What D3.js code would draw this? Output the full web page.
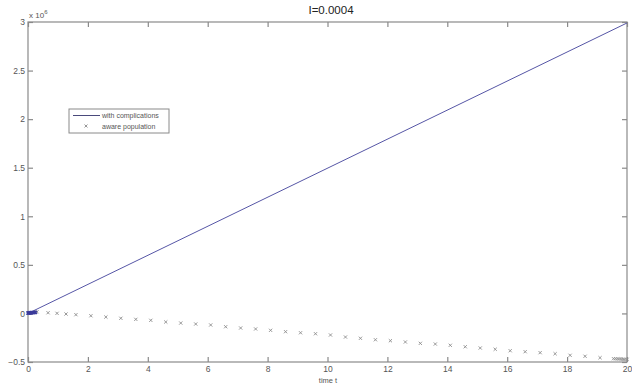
<!DOCTYPE html>
<html>
<head>
<meta charset="utf-8">
<script src="https://cdn.jsdelivr.net/npm/d3@7"></script>
<style>
  body { margin: 0; background: #fff; }
  text { font-family: "Liberation Sans", Arial, sans-serif; }
</style>
</head>
<body>
<svg id="chart" width="632" height="385"></svg>
<script>
// line series "with complications" (values in units of 10^6)
const lineTime = [0, 20];
const lineValue = [0, 2.99];

// marker series "aware population"
const awareTime = [0.3, 0.67, 0.97, 1.27, 1.6, 2.1, 2.6, 3.1, 3.6, 4.1, 4.6, 5.1, 5.6, 6.1,
  6.6, 7.1, 7.6, 8.1, 8.6, 9.1, 9.6, 10.1, 10.6, 11.1, 11.6, 12.1, 12.6, 13.1, 13.6, 14.1,
  14.6, 15.1, 15.6, 16.1, 16.6, 17.1, 17.6, 18.1, 18.6, 19.1, 19.55, 19.62, 19.69, 19.75,
  19.81, 19.87, 19.93, 20];
const awareValue = [0.017, 0.007, 0.001, -0.006, -0.013, -0.024, -0.037, -0.05, -0.061, -0.071,
  -0.088, -0.099, -0.109, -0.119, -0.137, -0.15, -0.16, -0.174, -0.188, -0.199, -0.209, -0.222,
  -0.243, -0.256, -0.271, -0.281, -0.294, -0.308, -0.315, -0.328, -0.343, -0.356, -0.369, -0.384,
  -0.394, -0.404, -0.415, -0.431, -0.441, -0.456, -0.466, -0.467, -0.468, -0.469, -0.47, -0.471,
  -0.472, -0.473];

// dense solver steps near the origin (drawn in blue)
const startTime = [0, 0.02, 0.04, 0.07, 0.1, 0.13, 0.17, 0.21, 0.25];
const startValue = [0.004, 0.005, 0.006, 0.006, 0.007, 0.008, 0.009, 0.01, 0.011];

const xTicks = [0, 2, 4, 6, 8, 10, 12, 14, 16, 18, 20];
const yTicks = [-0.5, 0, 0.5, 1, 1.5, 2, 2.5, 3];

const margin = {top: 22, right: 5, bottom: 23, left: 28},
    width = 632 - margin.left - margin.right,
    height = 385 - margin.top - margin.bottom;

const svg = d3.select("#chart");
const g = svg.append("g")
    .attr("transform", "translate(" + margin.left + "," + margin.top + ")");

const x = d3.scaleLinear().domain([0, 20]).range([0, width]);
const y = d3.scaleLinear().domain([-0.5, 3]).range([height, 0]);

const axisColor = "#8a8a8a";
const textColor = "#555";

// box
g.append("rect")
    .attr("width", width).attr("height", height)
    .attr("fill", "none").attr("stroke", axisColor).attr("stroke-width", 1.2);

function styleAxis(sel) {
  sel.select(".domain").remove();
  sel.selectAll(".tick line").attr("stroke", axisColor).attr("stroke-width", 1.2);
  sel.selectAll(".tick text").attr("fill", textColor).style("font-size", "8.5px");
}

// inward ticks on all four sides
g.append("g").attr("transform", "translate(0," + height + ")")
    .call(d3.axisBottom(x).tickValues(xTicks).tickSize(-5).tickPadding(4).tickFormat(d3.format("d")))
    .call(styleAxis);
g.append("g")
    .call(d3.axisTop(x).tickValues(xTicks).tickSize(-5).tickFormat(""))
    .call(styleAxis);
g.append("g")
    .call(d3.axisLeft(y).tickValues(yTicks).tickSize(-5).tickPadding(3).tickFormat(d3.format("")))
    .call(styleAxis);
g.append("g").attr("transform", "translate(" + width + ",0)")
    .call(d3.axisRight(y).tickValues(yTicks).tickSize(-5).tickFormat(""))
    .call(styleAxis);

// line
const line = d3.line().x((d, i) => x(lineTime[i])).y(d => y(d));
g.append("path")
    .datum(lineValue)
    .attr("d", line)
    .attr("fill", "none")
    .attr("stroke", "#5656a6")
    .attr("stroke-width", 1);

// cross markers
function cross(sel, color, s, w) {
  sel.append("path")
      .attr("d", "M" + (-s) + "," + (-s) + "L" + s + "," + s + "M" + (-s) + "," + s + "L" + s + "," + (-s))
      .attr("stroke", color).attr("stroke-width", w).attr("fill", "none");
}

g.selectAll(".aware")
    .data(awareValue)
    .enter().append("g")
    .attr("class", "aware")
    .attr("transform", (d, i) => "translate(" + x(awareTime[i]) + "," + y(d) + ")")
    .call(cross, "#8c8c8c", 1.6, 0.9);

g.selectAll(".start")
    .data(startValue)
    .enter().append("g")
    .attr("class", "start")
    .attr("transform", (d, i) => "translate(" + x(startTime[i]) + "," + y(d) + ")")
    .call(cross, "#3a3a9a", 1.6, 1.3);

// title
svg.append("text")
    .attr("x", 331).attr("y", 14)
    .attr("text-anchor", "middle")
    .attr("fill", "#222")
    .style("font-size", "11.5px")
    .text("I=0.0004");

// exponent label
const expo = svg.append("text")
    .attr("x", 29).attr("y", 18)
    .attr("fill", textColor)
    .style("font-size", "8px");
expo.append("tspan").text("x 10");
expo.append("tspan").attr("dy", -4).style("font-size", "6px").text("6");

// x label
svg.append("text")
    .attr("x", 328).attr("y", 383)
    .attr("text-anchor", "middle")
    .attr("fill", textColor)
    .style("font-size", "7.5px")
    .text("time t");

// legend
const leg = svg.append("g").attr("transform", "translate(69,109)");
leg.append("rect")
    .attr("width", 100).attr("height", 24)
    .attr("fill", "#fff").attr("stroke", axisColor).attr("stroke-width", 1);
leg.append("line")
    .attr("x1", 4).attr("x2", 31).attr("y1", 6.5).attr("y2", 6.5)
    .attr("stroke", "#4a4a7c").attr("stroke-width", 1);
leg.append("g").attr("transform", "translate(17,17)").call(cross, "#8c8c8c", 1.5, 0.9);
leg.append("text").attr("x", 33).attr("y", 9).attr("fill", textColor)
    .style("font-size", "7px").text("with complications");
leg.append("text").attr("x", 33).attr("y", 19.5).attr("fill", textColor)
    .style("font-size", "7px").text("aware population");
</script>
</body>
</html>
